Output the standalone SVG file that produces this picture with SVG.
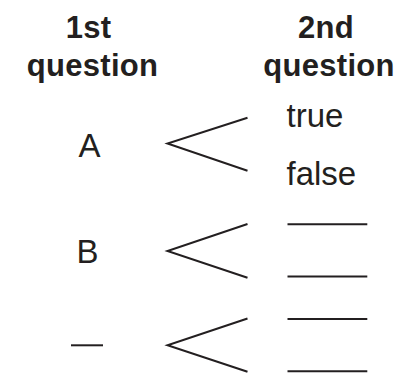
<svg xmlns="http://www.w3.org/2000/svg" width="402" height="373" viewBox="0 0 402 373">
<style>
.h{font-family:"Liberation Sans",Arial,sans-serif;font-weight:bold;font-size:31px;fill:#231f20;text-anchor:middle;letter-spacing:0.3px}
.t{font-family:"Liberation Sans",Arial,sans-serif;font-size:33px;fill:#231f20}
.c{text-anchor:middle}
.w{fill:none;stroke:#231f20;stroke-width:2}
.b{stroke:#231f20;stroke-width:2}
</style>
<rect width="402" height="373" fill="#fff"/>
<g id="header1"><text class="h" x="88.5" y="38">1st</text><text class="h" x="92.5" y="76">question</text></g>
<g id="header2"><text class="h" x="326" y="38">2nd</text><text class="h" x="329" y="76">question</text></g>
<g id="nodeA"><text class="t c" x="89.5" y="157">A</text></g>
<g id="nodeB"><text class="t c" x="87.5" y="262.5">B</text></g>
<g id="nodeBlank"><line class="b" x1="71" y1="345.3" x2="103" y2="345.3"/></g>
<g id="true"><text class="t" x="286.5" y="126.7">true</text></g>
<g id="false"><text class="t" x="286.5" y="185">false</text></g>
<g id="blankB1"><line class="b" x1="287.5" y1="224.3" x2="367.3" y2="224.3"/></g>
<g id="blankB2"><line class="b" x1="287.5" y1="276.5" x2="367.3" y2="276.5"/></g>
<g id="blankC1"><line class="b" x1="287.5" y1="319" x2="367.3" y2="319"/></g>
<g id="blankC2"><line class="b" x1="287.5" y1="371.3" x2="367.3" y2="371.3"/></g>
<g id="connectors">
<polyline class="w" points="247.5,117.7 167.5,143.5 247.5,170.8"/>
<polyline class="w" points="247.5,224 167.5,251 247.5,277.7"/>
<polyline class="w" points="247.5,318.5 167.5,345.3 247.5,371.8"/>
</g>
</svg>
